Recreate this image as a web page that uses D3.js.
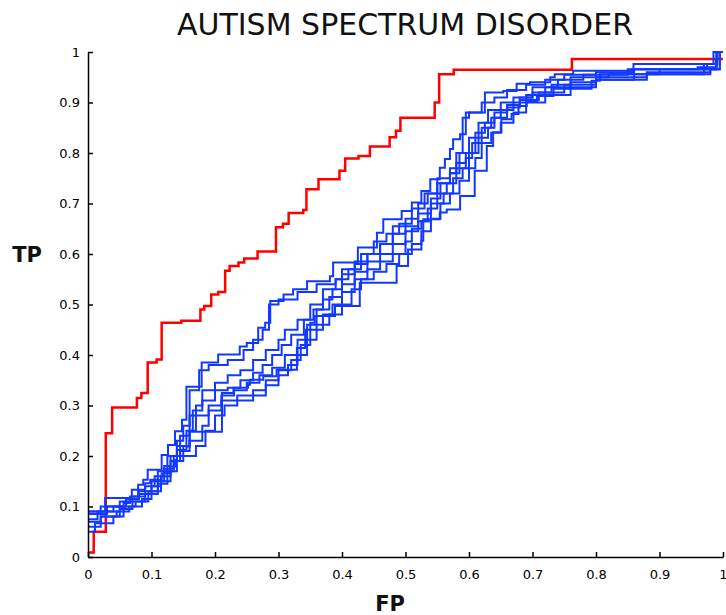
<!DOCTYPE html>
<html>
<head>
<meta charset="utf-8">
<script src="https://cdn.jsdelivr.net/npm/d3@7"></script>
<style>
  body { margin: 0; background: #fff; }
  svg { display: block; font-family: "DejaVu Sans", sans-serif; }
</style>
</head>
<body>
<div id="chart"></div>
<script>
var width = 726;
var height = 615;

var title = 'AUTISM SPECTRUM DISORDER';
var xTicks = [0, 0.1, 0.2, 0.3, 0.4, 0.5, 0.6, 0.7, 0.8, 0.9, 1];
var yTicks = [0, 0.1, 0.2, 0.3, 0.4, 0.5, 0.6, 0.7, 0.8, 0.9, 1];

// [fp, tp] step points, tp holds until the next fp
var redCurve = [[0,0.009],[0.009,0.05],[0.028,0.245],[0.038,0.296],[0.077,0.315],[0.084,0.325],[0.094,0.385],
  [0.108,0.391],[0.116,0.464],[0.147,0.468],[0.177,0.49],[0.183,0.497],[0.194,0.52],[0.205,0.525],[0.216,0.567],
  [0.223,0.576],[0.237,0.583],[0.246,0.591],[0.267,0.605],[0.296,0.653],[0.307,0.66],[0.316,0.681],[0.339,0.687],
  [0.344,0.728],[0.363,0.748],[0.396,0.765],[0.405,0.789],[0.426,0.794],[0.444,0.813],[0.475,0.831],[0.485,0.844],
  [0.492,0.87],[0.546,0.9],[0.553,0.956],[0.576,0.965],[0.762,0.986],[1,0.986]];

var blue1 = [[0,0.09],[0.027,0.117],[0.069,0.133],[0.079,0.143],[0.087,0.153],[0.094,0.173],[0.116,0.202],[0.126,0.222],
  [0.137,0.249],[0.148,0.272],[0.155,0.337],[0.179,0.385],[0.205,0.401],[0.239,0.417],[0.25,0.424],[0.268,0.454],
  [0.279,0.464],[0.287,0.507],[0.308,0.52],[0.323,0.53],[0.345,0.546],[0.381,0.556],[0.386,0.583],[0.425,0.613],
  [0.455,0.642],[0.465,0.669],[0.494,0.685],[0.51,0.702],[0.525,0.725],[0.539,0.748],[0.554,0.771],[0.562,0.788],
  [0.57,0.808],[0.575,0.827],[0.586,0.837],[0.595,0.88],[0.625,0.92],[0.654,0.923],[0.675,0.937],[0.696,0.94],
  [0.728,0.95],[0.735,0.956],[0.764,0.963],[0.859,0.976],[0.991,1],[1,1]];
var blue2 = [[0,0.085],[0.02,0.1],[0.06,0.115],[0.08,0.13],[0.1,0.15],[0.11,0.17],[0.125,0.2],[0.14,0.23],[0.15,0.26],
  [0.16,0.33],[0.175,0.37],[0.19,0.38],[0.22,0.39],[0.245,0.41],[0.26,0.43],[0.275,0.45],[0.285,0.5],[0.3,0.51],
  [0.33,0.525],[0.36,0.54],[0.39,0.55],[0.4,0.57],[0.42,0.585],[0.44,0.6],[0.46,0.62],[0.48,0.655],[0.5,0.67],
  [0.52,0.7],[0.535,0.72],[0.55,0.74],[0.57,0.76],[0.585,0.8],[0.59,0.87],[0.6,0.88],[0.62,0.9],[0.64,0.91],
  [0.66,0.925],[0.69,0.935],[0.72,0.945],[0.75,0.955],[0.8,0.96],[0.86,0.966],[0.96,0.97],[0.99,1],[1,1]];
var blue3 = [[0,0.09],[0.03,0.1],[0.05,0.11],[0.07,0.12],[0.09,0.14],[0.105,0.16],[0.12,0.18],[0.13,0.2],[0.145,0.24],
  [0.16,0.28],[0.17,0.3],[0.18,0.33],[0.2,0.345],[0.22,0.36],[0.24,0.37],[0.26,0.39],[0.28,0.41],[0.3,0.43],
  [0.31,0.45],[0.33,0.47],[0.35,0.5],[0.37,0.53],[0.39,0.55],[0.41,0.57],[0.43,0.6],[0.45,0.625],[0.47,0.64],
  [0.49,0.66],[0.51,0.69],[0.53,0.72],[0.55,0.75],[0.57,0.77],[0.58,0.8],[0.6,0.83],[0.615,0.86],[0.63,0.885],
  [0.65,0.9],[0.67,0.91],[0.7,0.93],[0.74,0.945],[0.78,0.955],[0.85,0.966],[0.97,0.976],[0.985,1],[1,1]];
var blue4 = [[0,0.075],[0.015,0.09],[0.04,0.1],[0.06,0.115],[0.08,0.125],[0.1,0.14],[0.115,0.16],[0.13,0.19],[0.14,0.22],
  [0.155,0.25],[0.165,0.29],[0.18,0.31],[0.2,0.33],[0.22,0.335],[0.24,0.35],[0.26,0.365],[0.275,0.38],[0.29,0.4],
  [0.305,0.42],[0.32,0.44],[0.34,0.47],[0.355,0.49],[0.37,0.51],[0.385,0.53],[0.4,0.56],[0.42,0.58],[0.44,0.6],
  [0.46,0.62],[0.48,0.64],[0.5,0.655],[0.52,0.68],[0.54,0.71],[0.555,0.74],[0.57,0.76],[0.58,0.78],[0.595,0.8],
  [0.61,0.84],[0.625,0.86],[0.64,0.88],[0.66,0.895],[0.68,0.91],[0.7,0.92],[0.73,0.935],[0.76,0.95],[0.82,0.956],
  [0.9,0.966],[0.975,0.976],[0.99,1],[1,1]];
var blue5 = [[0,0.06],[0.02,0.08],[0.05,0.095],[0.07,0.11],[0.09,0.125],[0.11,0.145],[0.125,0.17],[0.135,0.2],[0.15,0.22],
  [0.16,0.25],[0.17,0.28],[0.19,0.3],[0.21,0.32],[0.23,0.33],[0.25,0.345],[0.27,0.36],[0.29,0.375],[0.31,0.4],
  [0.33,0.43],[0.345,0.46],[0.36,0.49],[0.38,0.515],[0.4,0.54],[0.42,0.565],[0.44,0.585],[0.46,0.6],[0.48,0.62],
  [0.5,0.645],[0.52,0.665],[0.535,0.69],[0.55,0.72],[0.565,0.74],[0.58,0.77],[0.595,0.79],[0.605,0.82],[0.62,0.85],
  [0.635,0.87],[0.65,0.885],[0.67,0.9],[0.69,0.915],[0.72,0.93],[0.76,0.94],[0.8,0.95],[0.88,0.96],[0.98,0.966],
  [0.995,1],[1,1]];
var blue6 = [[0,0.085],[0.03,0.09],[0.05,0.1],[0.075,0.11],[0.095,0.13],[0.11,0.15],[0.12,0.175],[0.135,0.19],[0.145,0.21],
  [0.16,0.23],[0.18,0.26],[0.19,0.29],[0.21,0.31],[0.235,0.32],[0.26,0.33],[0.28,0.35],[0.3,0.37],[0.32,0.39],
  [0.335,0.42],[0.35,0.45],[0.37,0.48],[0.385,0.5],[0.4,0.525],[0.42,0.55],[0.44,0.57],[0.46,0.585],[0.48,0.6],
  [0.5,0.625],[0.51,0.65],[0.525,0.665],[0.54,0.7],[0.56,0.72],[0.575,0.75],[0.59,0.77],[0.6,0.8],[0.615,0.83],
  [0.63,0.85],[0.64,0.87],[0.66,0.89],[0.68,0.905],[0.71,0.92],[0.75,0.935],[0.8,0.945],[0.86,0.956],[0.97,0.966],
  [0.99,1],[1,1]];
var blue7 = [[0,0.07],[0.02,0.08],[0.045,0.09],[0.065,0.1],[0.085,0.115],[0.1,0.13],[0.115,0.15],[0.13,0.17],[0.14,0.19],
  [0.15,0.2],[0.17,0.22],[0.185,0.25],[0.2,0.28],[0.215,0.3],[0.235,0.31],[0.26,0.32],[0.28,0.34],[0.3,0.36],
  [0.315,0.38],[0.33,0.4],[0.345,0.43],[0.36,0.46],[0.38,0.48],[0.4,0.5],[0.415,0.53],[0.43,0.55],[0.45,0.565],
  [0.47,0.58],[0.49,0.6],[0.51,0.62],[0.525,0.645],[0.54,0.67],[0.555,0.7],[0.57,0.72],[0.585,0.745],[0.6,0.77],
  [0.61,0.79],[0.62,0.82],[0.635,0.84],[0.65,0.86],[0.67,0.88],[0.69,0.9],[0.72,0.915],[0.76,0.93],[0.8,0.945],
  [0.88,0.956],[0.98,0.966],[0.995,1],[1,1]];
var blue8 = [[0,0.05],[0.011,0.067],[0.04,0.08],[0.056,0.107],[0.066,0.12],[0.079,0.133],[0.09,0.146],[0.098,0.153],
  [0.116,0.166],[0.129,0.179],[0.137,0.192],[0.14,0.212],[0.155,0.219],[0.16,0.248],[0.211,0.325],[0.229,0.335],
  [0.252,0.341],[0.255,0.351],[0.276,0.358],[0.297,0.371],[0.329,0.414],[0.342,0.44],[0.343,0.45],[0.35,0.464],
  [0.357,0.477],[0.389,0.497],[0.428,0.543],[0.486,0.576],[0.504,0.609],[0.525,0.626],[0.528,0.669],[0.554,0.682],
  [0.565,0.688],[0.586,0.715],[0.609,0.765],[0.628,0.814],[0.638,0.841],[0.651,0.867],[0.667,0.877],[0.678,0.893],
  [0.691,0.903],[0.707,0.913],[0.733,0.927],[0.793,0.943],[0.806,0.956],[0.856,0.966],[0.989,0.986],[0.995,1],[1,1]];

var blueCurves = [blue1, blue2, blue3, blue4, blue5, blue6, blue7, blue8];

var plotLeft = 88, plotRight = 723, plotTop = 52, plotBottom = 557;

var x = d3.scaleLinear().domain([0, 1]).range([plotLeft, plotRight]);
var y = d3.scaleLinear().domain([0, 1]).range([plotBottom, plotTop]);

var svg = d3.select('#chart')
  .append('svg')
  .attr('width', width)
  .attr('height', height);

var line = d3.line()
  .x(function (d) { return x(d[0]); })
  .y(function (d) { return y(d[1]); })
  .curve(d3.curveStepAfter);

svg.append('path')
  .datum(redCurve)
  .attr('d', line)
  .attr('fill', 'none')
  .attr('stroke', '#ff0000')
  .attr('stroke-width', 2.5);

svg.selectAll('.blue')
  .data(blueCurves)
  .enter()
  .append('path')
  .attr('class', 'blue')
  .attr('d', line)
  .attr('fill', 'none')
  .attr('stroke', '#1238ff')
  .attr('stroke-width', 2);

var fmt = function (d) { return d === 0 || d === 1 ? String(d) : d3.format('.1f')(d); };

var xAxis = svg.append('g')
  .attr('transform', 'translate(0,' + plotBottom + ')')
  .call(d3.axisBottom(x).tickValues(xTicks).tickFormat(fmt).tickSizeInner(-5).tickSizeOuter(0).tickPadding(13));

var yAxis = svg.append('g')
  .attr('transform', 'translate(' + plotLeft + ',0)')
  .call(d3.axisLeft(y).tickValues(yTicks).tickFormat(fmt).tickSizeInner(-5).tickSizeOuter(0).tickPadding(8));

[xAxis, yAxis].forEach(function (g) {
  g.select('.domain').attr('stroke', '#000').attr('stroke-width', 1.5);
  g.selectAll('.tick line').attr('stroke', '#000').attr('stroke-width', 1.5);
  g.selectAll('.tick text')
    .attr('fill', '#000')
    .style('font-family', '"DejaVu Sans", sans-serif')
    .style('font-size', '13px');
});

svg.append('text')
  .attr('x', 405)
  .attr('y', 35)
  .attr('text-anchor', 'middle')
  .attr('fill', '#111')
  .style('font-size', '30px')
  .text(title);

svg.append('text')
  .attr('x', 27)
  .attr('y', 262)
  .attr('text-anchor', 'middle')
  .attr('fill', '#111')
  .style('font-size', '21px')
  .style('font-weight', 'bold')
  .text('TP');

svg.append('text')
  .attr('x', 390)
  .attr('y', 611)
  .attr('text-anchor', 'middle')
  .attr('fill', '#111')
  .style('font-size', '21px')
  .style('font-weight', 'bold')
  .text('FP');
</script>
</body>
</html>
